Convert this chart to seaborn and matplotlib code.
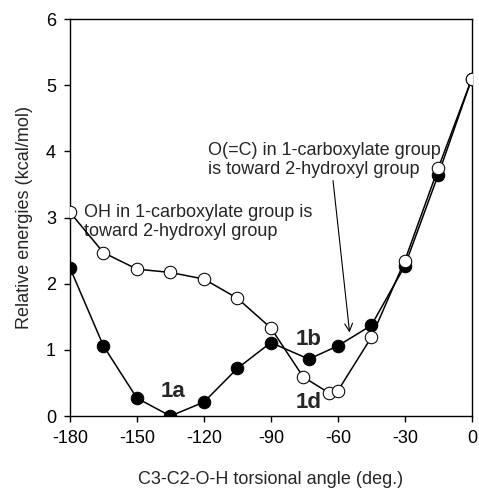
import numpy as np
import pandas as pd
import matplotlib
matplotlib.use("Agg")
import matplotlib.pyplot as plt
import seaborn as sns

# torsional scan
angle_closed = [-180, -165, -150, -135, -120, -105, -90, -73, -60, -45, -30, -15, 0]
energy_closed = [2.24, 1.06, 0.27, 0.0, 0.21, 0.72, 1.11, 0.86, 1.06, 1.37, 2.27, 3.65, 5.1]

angle_open = [-180, -165, -150, -135, -120, -105, -90, -75.5, -64, -60, -45, -30, -15, 0]
energy_open = [3.08, 2.47, 2.22, 2.17, 2.07, 1.78, 1.33, 0.59, 0.35, 0.38, 1.19, 2.35, 3.75, 5.1]

x_ticks = [-180, -150, -120, -90, -60, -30, 0]
y_ticks = [0, 1, 2, 3, 4, 5, 6]

sns.set_style("ticks")
plt.rcParams["font.family"] = ["Liberation Sans", "DejaVu Sans"]
plt.rcParams["axes.unicode_minus"] = False

closed_df = pd.DataFrame({"angle": angle_closed, "energy": energy_closed})
open_df = pd.DataFrame({"angle": angle_open, "energy": energy_open})

fig = plt.figure(figsize=(4.79, 4.88), dpi=100)
ax = fig.add_axes([0.146, 0.1475, 0.839, 0.8135])

sns.lineplot(data=closed_df, x="angle", y="energy", ax=ax, estimator=None,
             color="black", lw=1.1, marker="o", markersize=9,
             markerfacecolor="black", markeredgecolor="black", zorder=3)
sns.lineplot(data=open_df, x="angle", y="energy", ax=ax, estimator=None,
             color="black", lw=1.1, marker="o", markersize=9,
             markerfacecolor="white", markeredgecolor="black", zorder=4)

fs = 13.0
ax.set_xlim(-180, 0)
ax.set_ylim(0, 6)
ax.set_xticks(x_ticks)
ax.set_yticks(y_ticks)
ax.tick_params(direction="out", length=4, width=1, labelsize=fs, colors="black", pad=6)
for s in ax.spines.values():
    s.set_visible(True)
    s.set_color("black")
    s.set_linewidth(1.0)
ax.set_xlabel("C3-C2-O-H torsional angle (deg.)", fontsize=fs, labelpad=17)
ax.set_ylabel("Relative energies (kcal/mol)", fontsize=fs, labelpad=9)
ax.set_facecolor("white")

ax.text(-173.5, 2.93, "OH in 1-carboxylate group is\ntoward 2-hydroxyl group",
        fontsize=fs, va="center", ha="left", linespacing=1.2)
ax.text(-118, 3.87, "O(=C) in 1-carboxylate group\nis toward 2-hydroxyl group",
        fontsize=fs, va="center", ha="left", linespacing=1.2)
ax.annotate("", xy=(-54.6, 1.22), xytext=(-62.3, 3.6),
            arrowprops=dict(arrowstyle="->", color="black", lw=0.8,
                            mutation_scale=14))

ax.text(-134, 0.37, "1a", fontsize=16, fontweight="bold", ha="center", va="center")
ax.text(-73, 1.16, "1b", fontsize=16, fontweight="bold", ha="center", va="center")
ax.text(-73, 0.2, "1d", fontsize=16, fontweight="bold", ha="center", va="center")

fig.savefig("out.png", dpi=100, facecolor="white")
